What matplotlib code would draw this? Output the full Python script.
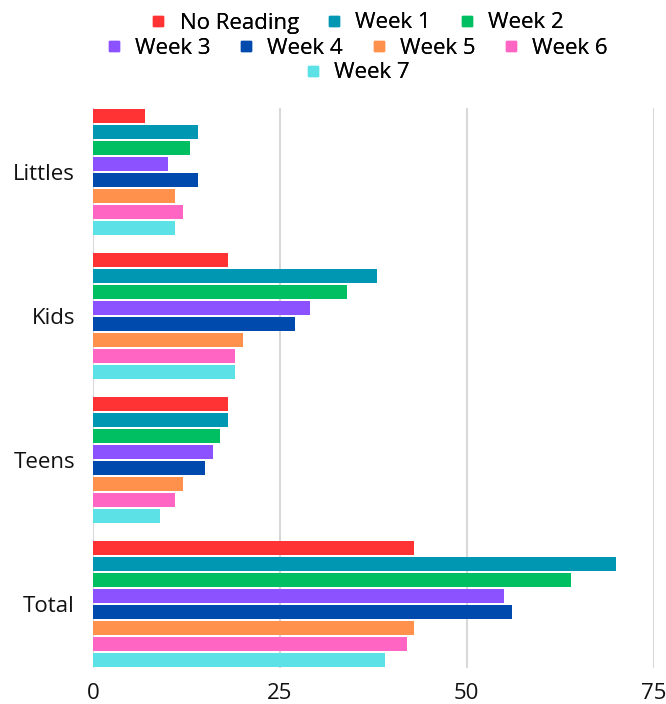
import matplotlib.pyplot as plt
from matplotlib.lines import Line2D

plt.rcParams['font.family'] = ['Open Sans', 'DejaVu Sans']

groups = ['Littles', 'Kids', 'Teens', 'Total']
series = ['No Reading', 'Week 1', 'Week 2', 'Week 3', 'Week 4', 'Week 5', 'Week 6', 'Week 7']
colors = ['#FF3333', '#0097B2', '#00BF63', '#8C52FF', '#004AAD', '#FF914D', '#FF66C4', '#5CE1E6']

no_reading = [7, 18, 18, 43]
week1 = [14, 38, 18, 70]
week2 = [13, 34, 17, 64]
week3 = [10, 29, 16, 55]
week4 = [14, 27, 15, 56]
week5 = [11, 20, 12, 43]
week6 = [12, 19, 11, 42]
week7 = [11, 19, 9, 39]
values = [no_reading, week1, week2, week3, week4, week5, week6, week7]

fig = plt.figure(figsize=(6.66, 7.04), dpi=100)
ax = fig.add_axes([93 / 666, 36 / 704, 560.7 / 666, 560 / 704])

slots = len(series) + 1
for j, (name, vals, c) in enumerate(zip(series, values, colors)):
    ys = [i * slots + j + 0.5 for i in range(len(groups))]
    ax.barh(ys, vals, height=0.875, color=c, label=name, zorder=3)

ax.set_ylim(len(groups) * slots - 1, 0)
ax.set_xlim(0, 75)
ax.set_xticks([0, 25, 50, 75])
ax.set_yticks([i * slots + 4 for i in range(len(groups))])
ax.set_yticklabels(groups)
ax.tick_params(axis='both', length=0, labelsize=16, colors='#111111')
ax.tick_params(axis='y', pad=13)
ax.tick_params(axis='x', pad=11)
ax.grid(axis='x', color='#d9d9d9', linewidth=1.5, zorder=0)
for s in ['top', 'right', 'bottom', 'left']:
    ax.spines[s].set_visible(False)

handles = [Line2D([], [], marker='s', linestyle='none', markersize=7, color=c) for c in colors]
rows = [(0, 3, 23), (3, 7, 48), (7, 8, 73)]
for a, b, y in rows:
    leg = fig.legend(handles[a:b], series[a:b], loc='center', bbox_to_anchor=(357 / 666, 1 - y / 704),
                     ncol=b - a, frameon=False, fontsize=16, handlelength=0.7, handletextpad=0.6,
                     columnspacing=1.25, borderpad=0, borderaxespad=0)
    fig.add_artist(leg)

fig.savefig('out.png', dpi=100)
